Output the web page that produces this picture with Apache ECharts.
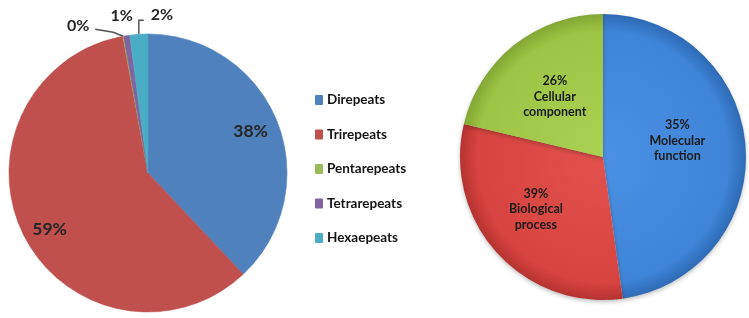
<!DOCTYPE html>
<html>
<head>
<meta charset="utf-8">
<script src="https://cdn.jsdelivr.net/npm/echarts@6/dist/echarts.min.js"></script>
<style>
html,body{margin:0;padding:0;background:#fff;}
#c{width:749px;height:318px;}
</style>
</head>
<body>
<div id="c"></div>
<script>
// Left pie: repeat types
const repeatNames = ['Direpeats', 'Trirepeats', 'Pentarepeats', 'Tetrarepeats', 'Hexaepeats'];
const repeatValues = [38, 59.1, 0.1, 0.7, 2.1];
const repeatColors = ['#4F81BD', '#C0504D', '#9BBB59', '#8064A2', '#4BACC6'];

// Right pie: GO categories (slice sizes as drawn, printed percentages as labelled)
const goNames = ['Molecular function', 'Biological process', 'Cellular component'];
const goValues = [47.8, 30.9, 21.3];
const goLabels = ['35%', '39%', '26%'];
const goColors = [
  ['#4b91e3', '#3e84d7', '#2e6ab5'],
  ['#e2524d', '#d8443f', '#b53331'],
  ['#aad152', '#9dc444', '#83a735']
];
const goLabelOffsets = [[0, -11], [-12, 2], [-2, -2]];

const FONT = 'Lato';
const chart = echarts.init(document.getElementById('c'), null, {renderer: 'canvas'});

const mainData = repeatNames.map((n, i) => ({
  name: n,
  value: repeatValues[i],
  itemStyle: {color: repeatColors[i], borderColor: repeatColors[i], borderWidth: 0.6},
  label: {show: i >= 2},
  labelLine: {show: i === 2 || i === 4}
}));
const overlayData = repeatNames.map((n, i) => ({
  name: n,
  value: repeatValues[i],
  label: {show: i < 2, offset: i === 1 ? [2, 6] : [-2, 0]}
}));

// offsets of small labels relative to the slice edge anchor
const smallLabelOffsets = {
  2: {dx: -45, dy: -10, line: [[-10, -4], [-28, -7]]},
  3: {dx: -5, dy: -20, line: null},
  4: {dx: 23, dy: -19, line: [[0, -14], [5, -14]]}
};

const option = {
  backgroundColor: '#ffffff',
  animation: false,
  legend: {
    orient: 'vertical',
    left: 310,
    top: 88,
    data: repeatNames,
    icon: 'rect',
    itemWidth: 6,
    itemHeight: 8,
    itemGap: 20.5,
    textStyle: {fontFamily: FONT, fontWeight: 'bold', fontSize: 13.5, color: '#141414', lineHeight: 14}
  },
  series: [
    {
      type: 'pie',
      center: [148, 173],
      radius: 139,
      startAngle: 90,
      clockwise: true,
      silent: true,
      data: mainData,
      label: {
        position: 'outside',
        formatter: p => Math.round(p.value) + '%',
        fontFamily: FONT, fontWeight: 'bold', fontSize: 16, color: '#262626'
      },
      labelLine: {length: 10, length2: 10, lineStyle: {color: '#555', width: 1.5}},
      labelLayout: function (params) {
        const o = smallLabelOffsets[params.dataIndex];
        if (!o || !params.labelLinePoints) return {};
        const p0 = params.labelLinePoints[0];
        const res = {
          x: p0[0] + o.dx,
          y: p0[1] + o.dy,
          align: 'center',
          verticalAlign: 'middle'
        };
        if (o.line) {
          res.labelLinePoints = [p0, [p0[0] + o.line[0][0], p0[1] + o.line[0][1]], [p0[0] + o.line[1][0], p0[1] + o.line[1][1]]];
        }
        return res;
      }
    },
    {
      type: 'pie',
      center: [148, 173],
      radius: [80, 139],
      startAngle: 90,
      clockwise: true,
      silent: true,
      data: overlayData,
      itemStyle: {color: 'rgba(0,0,0,0)'},
      label: {
        position: 'inside',
        formatter: p => Math.round(p.value) + '%',
        fontFamily: FONT, fontWeight: 'bold', fontSize: 17.5, color: '#262626'
      },
      labelLine: {show: false}
    },
    {
      type: 'pie',
      center: [603, 157],
      radius: 143,
      startAngle: 90,
      clockwise: true,
      silent: true,
      data: goNames.map((n, i) => ({
        name: n,
        value: goValues[i],
        label: {offset: goLabelOffsets[i]},
        itemStyle: {
          color: {
            type: 'radial', x: 603, y: 157, r: 143, global: true,
            colorStops: [
              {offset: 0, color: goColors[i][0]},
              {offset: 0.88, color: goColors[i][1]},
              {offset: 1, color: goColors[i][2]}
            ]
          }
        }
      })),
      itemStyle: {shadowBlur: 4, shadowColor: 'rgba(0,0,0,0.25)', shadowOffsetY: 2},
      label: {
        position: 'inside',
        formatter: p => goLabels[p.dataIndex] + '\n' + p.name.split(' ').join('\n'),
        fontFamily: FONT, fontWeight: 'bold', fontSize: 12.5, lineHeight: 15.5, color: '#1a1a1a'
      },
      labelLine: {show: false}
    }
  ]
};
chart.setOption(option);
</script>
</body>
</html>
